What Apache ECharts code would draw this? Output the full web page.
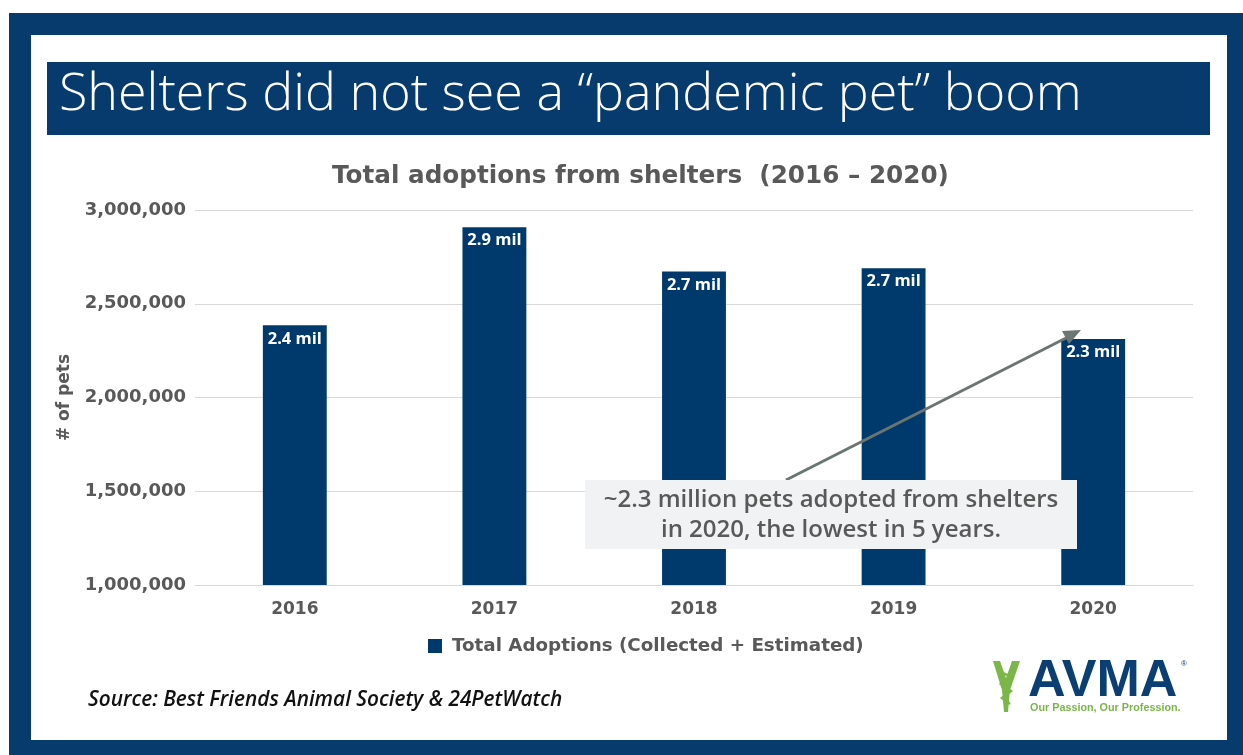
<!DOCTYPE html>
<html>
<head>
<meta charset="utf-8">
<script src="https://cdn.jsdelivr.net/npm/echarts@6/dist/echarts.min.js"></script>
<style>
html,body{margin:0;padding:0;background:#ffffff;}
#chart{width:1243px;height:755px;}
</style>
</head>
<body>
<div id="chart"></div>
<script>
// ---- data ----
const categories = ['2016', '2017', '2018', '2019', '2020'];
const adoptions = [2385000, 2908000, 2672000, 2690000, 2312000];
const barLabels = ['2.4 mil', '2.9 mil', '2.7 mil', '2.7 mil', '2.3 mil'];
const yTicks = [1000000, 1500000, 2000000, 2500000, 3000000];
const seriesName = 'Total Adoptions (Collected + Estimated)';
const headline = 'Shelters did not see a \u201cpandemic pet\u201d boom';
const chartTitle = 'Total adoptions from shelters  (2016 \u2013 2020)';
const yAxisName = '# of pets';
const noteLines = ['~2.3 million pets adopted from shelters', 'in 2020, the lowest in 5 years.'];
const sourceText = 'Source: Best Friends Animal Society & 24PetWatch';

const NAVY = '#073b6e';
const BAR = '#003a6d';
const GRAY = '#595959';

const chart = echarts.init(document.getElementById('chart'), null, {renderer: 'canvas'});

const option = {
  animation: false,
  backgroundColor: '#ffffff',
  title: {
    text: chartTitle,
    left: 327,
    top: 159,
    textStyle: {fontFamily: 'DejaVu Sans', fontWeight: 'bold', fontSize: 24.7, color: GRAY}
  },
  legend: {
    data: [seriesName],
    top: 632,
    left: 423,
    itemWidth: 14,
    itemHeight: 14,
    icon: 'rect',
    textStyle: {fontFamily: 'DejaVu Sans', fontWeight: 'bold', fontSize: 18.3, color: GRAY, padding: [0, 0, 0, 5]}
  },
  grid: {left: 195, right: 50, top: 210, bottom: 170, containLabel: false},
  xAxis: {
    type: 'category',
    data: categories,
    axisLine: {show: true, lineStyle: {color: '#d9d9d9', width: 1}},
    axisTick: {show: false},
    axisLabel: {margin: 16, fontFamily: 'DejaVu Sans', fontWeight: 'bold', fontSize: 17, color: GRAY}
  },
  yAxis: {
    type: 'value',
    min: yTicks[0],
    max: yTicks[yTicks.length - 1],
    interval: yTicks[1] - yTicks[0],
    name: yAxisName,
    nameLocation: 'middle',
    nameGap: 122,
    nameTextStyle: {fontFamily: 'DejaVu Sans', fontWeight: 'bold', fontSize: 17, color: GRAY},
    axisLine: {show: false},
    axisTick: {show: false},
    splitLine: {lineStyle: {color: '#d9d9d9', width: 1}},
    axisLabel: {
      margin: 9,
      fontFamily: 'DejaVu Sans', fontWeight: 'bold', fontSize: 18, color: GRAY,
      formatter: v => v.toLocaleString('en-US')
    }
  },
  series: [{
    name: seriesName,
    type: 'bar',
    data: adoptions,
    barWidth: '32%',
    itemStyle: {color: BAR},
    label: {
      show: true,
      position: 'insideTop',
      distance: 5,
      formatter: p => barLabels[p.dataIndex],
      fontFamily: 'Open Sans', fontWeight: 700, fontSize: 16.5, color: '#ffffff'
    }
  }],
  graphic: [
    // outer navy frame
    {type: 'rect', z: -10, silent: true, shape: {x: 9, y: 13, width: 1243, height: 755}, style: {fill: NAVY}},
    {type: 'rect', z: -9, silent: true, shape: {x: 31, y: 35, width: 1196, height: 705}, style: {fill: '#ffffff'}},
    // headline banner
    {type: 'rect', z: -8, silent: true, shape: {x: 47, y: 62, width: 1163, height: 73}, style: {fill: NAVY}},
    {type: 'text', z: 10, silent: true, left: 59, top: 69,
      style: {text: headline, fill: '#ffffff', fontFamily: 'Open Sans', fontWeight: 300, fontSize: 52}},
    // annotation box
    {type: 'rect', z: 20, silent: true, shape: {x: 585, y: 480, width: 492, height: 69}, style: {fill: '#f1f2f3'}},
    {type: 'text', z: 21, silent: true, x: 831, y: 500,
      style: {text: noteLines[0], fill: GRAY, fontFamily: 'Open Sans', fontWeight: 600, fontSize: 24, align: 'center', verticalAlign: 'middle'}},
    {type: 'text', z: 21, silent: true, x: 831, y: 530,
      style: {text: noteLines[1], fill: GRAY, fontFamily: 'Open Sans', fontWeight: 600, fontSize: 24, align: 'center', verticalAlign: 'middle'}},
    // arrow
    {type: 'line', z: 19, silent: true, shape: {x1: 786, y1: 480, x2: 1068, y2: 337}, style: {stroke: '#6b7672', lineWidth: 3}},
    {type: 'polygon', z: 19, silent: true, shape: {points: [[1081, 330], [1062, 331], [1069, 344]]}, style: {fill: '#6b7672'}},
    // source
    {type: 'text', z: 10, silent: true, left: 88, top: 690,
      style: {text: sourceText, fill: '#111111', fontFamily: 'Open Sans', fontStyle: 'italic', fontWeight: 600, fontSize: 20.8}},
    // AVMA logo (caduceus approximation)
    {type: 'polygon', z: 10, silent: true, shape: {points: [[993, 661], [1000, 661], [1006, 678], [1012, 661], [1020, 661], [1010, 690], [1008, 712], [1004, 712], [1002, 690]]}, style: {fill: '#7ab648'}},
    {type: 'polyline', z: 11, silent: true, shape: {points: [[1001, 672], [1011, 677], [1001, 684], [1011, 691], [1002, 698], [1010, 704]]}, style: {stroke: '#7ab648', lineWidth: 2.5, fill: null}},
    {type: 'text', z: 10, silent: true, left: 1028, top: 656,
      style: {text: 'AVMA', fill: '#0b3f73', fontFamily: 'Liberation Sans', fontWeight: 'bold', fontSize: 52}},
    {type: 'text', z: 10, silent: true, left: 1181, top: 660,
      style: {text: '\u00ae', fill: '#0b3f73', fontFamily: 'Liberation Sans', fontSize: 8}},
    {type: 'text', z: 10, silent: true, left: 1030, top: 703,
      style: {text: 'Our Passion, Our Profession.', fill: '#7ab648', fontFamily: 'Liberation Sans', fontWeight: 'bold', fontSize: 10.8}}
  ]
};
chart.setOption(option);
</script>
</body>
</html>
